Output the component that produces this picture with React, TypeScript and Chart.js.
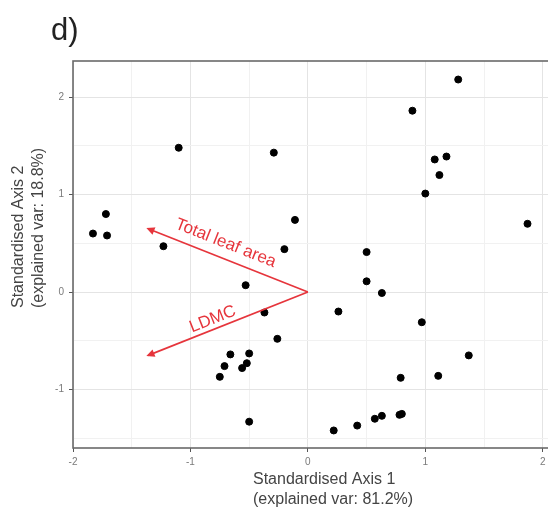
import React, { useEffect, useRef } from "react";
import { Chart, registerables } from "chart.js";

Chart.register(...registerables);

// Sample scores (Standardised Axis 1 / Axis 2)
const axis1Scores = [
  -1.83, -1.72, -1.71, -1.10, -1.23, -0.29, -0.11, -0.20, -0.53,
  1.28, 0.89, 1.08, 1.18, 1.12, 1.00, 1.87, 0.50, 0.50, 0.63,
  -0.37, -0.26, -0.66, -0.50, -0.71, -0.52, -0.56, -0.75, -0.50,
  0.26, 0.97, 1.37, 0.79, 1.11, 0.22, 0.42, 0.57, 0.63, 0.78, 0.80,
];
const axis2Scores = [
  0.60, 0.80, 0.58, 1.48, 0.47, 1.43, 0.74, 0.44, 0.07,
  2.18, 1.86, 1.36, 1.39, 1.20, 1.01, 0.70, 0.41, 0.11, -0.01,
  -0.21, -0.48, -0.64, -0.63, -0.76, -0.73, -0.78, -0.87, -1.33,
  -0.20, -0.31, -0.65, -0.88, -0.86, -1.42, -1.37, -1.30, -1.27, -1.26, -1.25,
];

// Variable loadings (arrows)
const arrowNames = ["Total leaf area", "LDMC"];
const arrowX = [-1.36, -1.36];
const arrowY = [0.65, -0.65];
const arrowLabelX = [-0.70, -0.81];
const arrowLabelY = [0.50, -0.28];

const xTickLabels = ["-2", "-1", "0", "1", "2"];
const yTickLabels = ["-1", "0", "1", "2"];

const panelLabel = "d)";
const xTitle = ["Standardised Axis 1", "(explained var: 81.2%)"];
const yTitle = ["Standardised Axis 2", "(explained var: 18.8%)"];

const FONT = "'Liberation Sans', Arial, sans-serif";
const RED = "#e6353c";

const biplotPlugin = {
  id: "biplot",
  afterDatasetsDraw(chart: any) {
    const { ctx, scales } = chart;
    const xs = scales.x;
    const ys = scales.y;
    const ox = xs.getPixelForValue(0);
    const oy = ys.getPixelForValue(0);
    ctx.save();
    for (let i = 0; i < arrowNames.length; i++) {
      const tx = xs.getPixelForValue(arrowX[i]);
      const ty = ys.getPixelForValue(arrowY[i]);
      ctx.strokeStyle = RED;
      ctx.lineWidth = 1.7;
      ctx.beginPath();
      ctx.moveTo(ox, oy);
      ctx.lineTo(tx, ty);
      ctx.stroke();
      const ang = Math.atan2(ty - oy, tx - ox);
      const hl = 6;
      ctx.beginPath();
      ctx.moveTo(tx + hl * Math.cos(ang + Math.PI - 0.45), ty + hl * Math.sin(ang + Math.PI - 0.45));
      ctx.lineTo(tx, ty);
      ctx.lineTo(tx + hl * Math.cos(ang + Math.PI + 0.45), ty + hl * Math.sin(ang + Math.PI + 0.45));
      ctx.closePath();
      ctx.fillStyle = RED;
      ctx.fill();
      ctx.stroke();
      // label
      const rot = Math.atan2(oy - ty, ox - tx);
      const lx = xs.getPixelForValue(arrowLabelX[i]);
      const ly = ys.getPixelForValue(arrowLabelY[i]);
      ctx.save();
      ctx.translate(lx, ly);
      ctx.rotate(rot);
      ctx.fillStyle = RED;
      ctx.font = `17px ${FONT}`;
      ctx.textAlign = "center";
      ctx.textBaseline = "middle";
      ctx.fillText(arrowNames[i], 0, 0);
      ctx.restore();
    }
    ctx.restore();
  },
  afterDraw(chart: any) {
    const { ctx, chartArea } = chart;
    ctx.save();
    // panel border
    ctx.strokeStyle = "#6a6a6a";
    ctx.lineWidth = 1.6;
    ctx.strokeRect(chartArea.left, chartArea.top, chartArea.right - chartArea.left, chartArea.bottom - chartArea.top);
    // panel label
    ctx.fillStyle = "#222";
    ctx.font = `31px ${FONT}`;
    ctx.textAlign = "left";
    ctx.textBaseline = "alphabetic";
    ctx.fillText(panelLabel, 51, 40);
    // x title
    ctx.fillStyle = "#444";
    ctx.font = `16px ${FONT}`;
    ctx.textBaseline = "middle";
    ctx.fillText(xTitle[0], 253, 480);
    ctx.fillText(xTitle[1], 253, 500);
    // y title
    ctx.save();
    ctx.translate(19, 308);
    ctx.rotate(-Math.PI / 2);
    ctx.fillText(yTitle[0], 0, 0);
    ctx.fillText(yTitle[1], 0, 20);
    ctx.restore();
    ctx.restore();
  },
};

const isInt = (v: number) => Math.abs(v - Math.round(v)) < 1e-6;

export default function App() {
  const canvasRef = useRef<HTMLCanvasElement | null>(null);

  useEffect(() => {
    if (!canvasRef.current) return;
    const points = axis1Scores.map((x, i) => ({ x, y: axis2Scores[i] }));
    const tickFont = { size: 10, family: FONT };
    const chart = new Chart(canvasRef.current, {
      type: "scatter",
      data: {
        datasets: [
          {
            data: points,
            backgroundColor: "#000",
            borderColor: "#000",
            pointRadius: 3.5,
            pointHoverRadius: 3.5,
          },
        ],
      },
      options: {
        animation: false,
        responsive: false,
        devicePixelRatio: 1,
        layout: { padding: { left: 0, top: 61, right: 22, bottom: 0 } },
        plugins: { legend: { display: false }, tooltip: { enabled: false } },
        scales: {
          x: {
            type: "linear",
            min: -2,
            max: 2.3,
            afterFit: (s: any) => {
              s.height = 67;
            },
            ticks: {
              stepSize: 0.5,
              includeBounds: false,
              autoSkip: false,
              maxRotation: 0,
              padding: 4,
              color: "#7a7a7a",
              font: tickFont,
              callback: (v: any) => {
                const s = String(Math.round(Number(v)));
                return isInt(Number(v)) && xTickLabels.includes(s) ? s : "";
              },
            },
            grid: {
              color: (c: any) => (isInt(c.tick.value) ? "#e4e4e4" : "#f1f1f1"),
              tickColor: (c: any) => (isInt(c.tick.value) ? "#555" : "rgba(0,0,0,0)"),
              tickLength: 4,
              lineWidth: 1,
            },
            border: { display: false },
          },
          y: {
            type: "linear",
            min: -1.6,
            max: 2.37,
            afterFit: (s: any) => {
              s.width = 73;
            },
            ticks: {
              stepSize: 0.5,
              includeBounds: false,
              autoSkip: false,
              padding: 5,
              color: "#7a7a7a",
              font: tickFont,
              callback: (v: any) => {
                const s = String(Math.round(Number(v)));
                return isInt(Number(v)) && yTickLabels.includes(s) ? s : "";
              },
            },
            grid: {
              color: (c: any) => (isInt(c.tick.value) ? "#e4e4e4" : "#f1f1f1"),
              tickColor: (c: any) => (isInt(c.tick.value) ? "#555" : "rgba(0,0,0,0)"),
              tickLength: 4,
              lineWidth: 1,
            },
            border: { display: false },
          },
        },
      },
      plugins: [biplotPlugin],
    });
    return () => chart.destroy();
  }, []);

  return (
    <div
      style={{
        position: "fixed",
        left: 0,
        top: 0,
        width: 548,
        height: 515,
        overflow: "hidden",
        background: "#fff",
      }}
    >
      <canvas ref={canvasRef} width={600} height={515} style={{ display: "block" }} />
    </div>
  );
}
